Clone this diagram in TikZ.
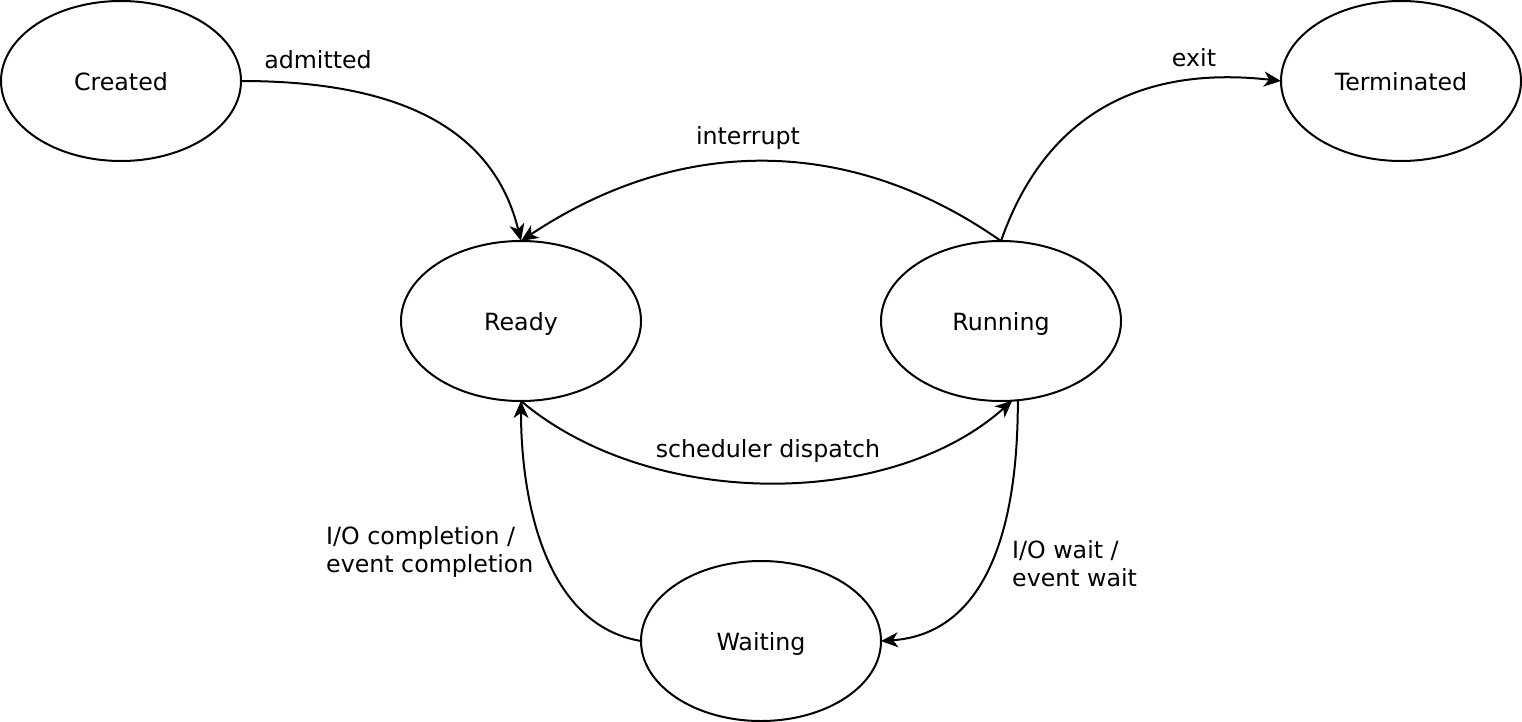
\documentclass[tikz,border=0pt]{standalone}
\usepackage{fontspec}
\setmainfont{DejaVu Sans}
\usetikzlibrary{arrows.meta,shapes.geometric}
\begin{document}
\begin{tikzpicture}[x=1pt,y=-1pt,
  state/.style={ellipse,draw,line width=2pt,minimum width=240pt,minimum height=160pt,inner sep=0pt,outer sep=0pt,text depth=0pt},
  lbl/.style={inner sep=0pt},
  one/.style={text depth=0pt},
  conn/.style={line width=2pt,-{Stealth[length=17pt,width=15pt,inset=5pt]}},
  every node/.style={font=\fontsize{23.7}{28}\selectfont}]
\useasboundingbox (0,0) rectangle (1522,722);
\node[state] (created) at (121,81) {Created};
\node[state] (ready) at (521,321) {Ready};
\node[state] (running) at (1001,321) {Running};
\node[state] (term) at (1401,81) {Terminated};
\node[state] (wait) at (761,641) {Waiting};

\node[lbl,one] (ladm) at (318,59) {admitted};
\node[lbl,one] (lint) at (748,135) {interrupt};
\node[lbl,one] (lsch) at (768,448) {scheduler dispatch};
\node[lbl,one] (lexit) at (1194,57) {exit};
\node[lbl,anchor=west,align=left] (lioc) at (326,552) {I/O completion /\\event completion};
\node[lbl,anchor=west,align=left] (liow) at (1012,564) {I/O wait /\\event wait};

\draw[conn] (created.east) .. controls (410,81) and (495,135) .. (ready.north);
\draw[conn] (running.north) .. controls (850,135) and (680,135) .. (ready.north);
\draw[conn] (ready.south) .. controls (650,510) and (890,510) .. (running.-82);
\draw[conn] (running.-78) .. controls (1018,560) and (970,635) .. (wait.east);
\draw[conn] (wait.west) .. controls (545,625) and (521,500) .. (ready.south);
\draw[conn] (running.north) .. controls (1045,115) and (1140,65) .. (term.west);
\end{tikzpicture}
\end{document}
